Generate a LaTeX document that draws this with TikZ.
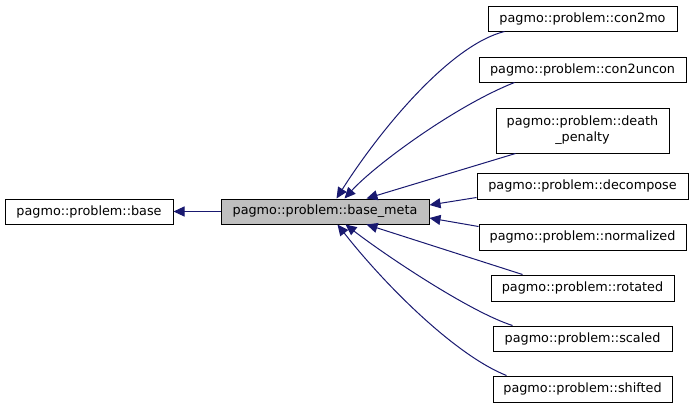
\documentclass[tikz,border=0pt]{standalone}
\usepackage{fontspec}
\setmainfont{DejaVu Sans}
\usetikzlibrary{arrows.meta,calc}
\definecolor{edgeblue}{RGB}{25,25,112}
\definecolor{metagray}{RGB}{191,191,191}
\tikzset{
  cls/.style={draw=black, line width=1pt, fill=white, inner sep=0pt, align=center,
    font=\fontsize{12.8}{16}\selectfont, minimum height=25pt},
  inh/.style={draw=edgeblue, line width=1pt, -{Triangle[length=11pt,width=10pt]}}
}
\begin{document}
\begin{tikzpicture}[x=1pt,y=-1pt]
\useasboundingbox (0,0) rectangle (693,408);
\node[cls, minimum width=168pt] (base) at (89,211.5) {pagmo::problem::base};
\node[cls, fill=metagray, minimum width=208pt] (meta) at (325,211.5) {pagmo::problem::base\_meta};
\node[cls, minimum width=189pt] (c2mo) at (582.5,18.5) {pagmo::problem::con2mo};
\node[cls, minimum width=207pt] (c2un) at (582.5,69.5) {pagmo::problem::con2uncon};
\node[cls, minimum width=173pt, minimum height=45pt] (death) at (582.5,130.5) {pagmo::problem::death\\\_penalty};
\node[cls, minimum width=211pt, minimum height=26pt] (decomp) at (582.5,186) {pagmo::problem::decompose};
\node[cls, minimum width=207pt, minimum height=26pt] (norm) at (582.5,237) {pagmo::problem::normalized};
\node[cls, minimum width=183pt, minimum height=26pt] (rot) at (582.5,288) {pagmo::problem::rotated};
\node[cls, minimum width=179pt] (scal) at (582.5,338.5) {pagmo::problem::scaled};
\node[cls, minimum width=179pt, minimum height=26pt] (shift) at (582.5,389) {pagmo::problem::shifted};

\draw[inh] (meta.west) -- (base.east);
\draw[inh] ($(c2mo.south west)+(17,0)$) .. controls (450,45) and (380,130) .. ($(meta.north west)+(116,0)$);
\draw[inh] ($(c2un.south west)+(36,0)$) .. controls (455,106) and (375,165) .. ($(meta.north west)+(124,0)$);
\draw[inh] ($(death.south west)+(20,0)$) -- ($(meta.north west)+(146,0)$);
\draw[inh] ($(decomp.south west)+(0,-2)$) -- ($(meta.east)+(0,-6.5)$);
\draw[inh] ($(norm.north west)+(0,3)$) -- ($(meta.east)+(0,6.5)$);
\draw[inh] ($(rot.north west)+(32,0)$) -- ($(meta.south west)+(146,0)$);
\draw[inh] ($(scal.north west)+(20,0)$) .. controls (470,312) and (385,255) .. ($(meta.south west)+(125,0)$);
\draw[inh] ($(shift.north west)+(14,0)$) .. controls (455,355) and (385,285) .. ($(meta.south west)+(117,0)$);
\end{tikzpicture}
\end{document}
